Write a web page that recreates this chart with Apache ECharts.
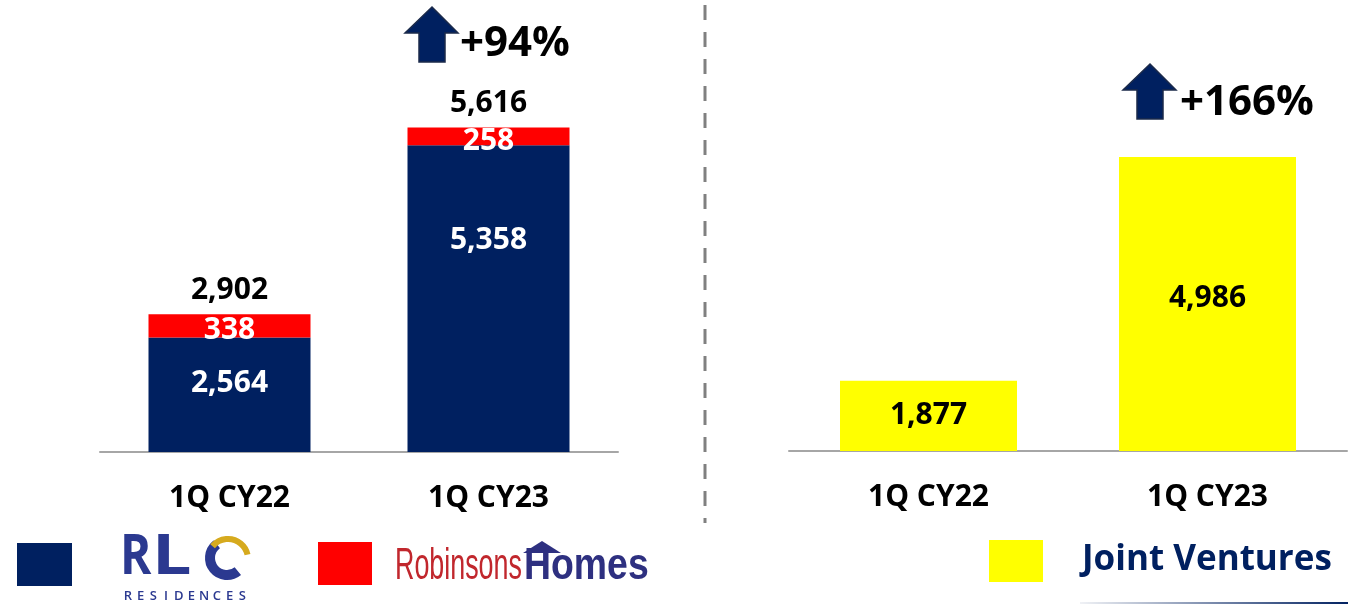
<!DOCTYPE html>
<html>
<head>
<meta charset="utf-8">
<script src="https://cdn.jsdelivr.net/npm/echarts@6/dist/echarts.min.js"></script>
<style>
  html, body { margin: 0; padding: 0; background: #fff; }
  #chart { width: 1348px; height: 605px; }
</style>
</head>
<body>
<div id="chart"></div>
<script>
// data
const categories = ['1Q CY22', '1Q CY23'];
const rlcValues = [2564, 5358];
const robinsonsValues = [338, 258];
const jvValues = [1877, 4986];
const growthLabels = ['+94%', '+166%'];

const totals = rlcValues.map((v, i) => v + robinsonsValues[i]);
const fmt = (v) => v.toLocaleString('en-US');

const NAVY = '#002060';
const LOGO_BLUE = '#2b3990';
const FONT = '"Open Sans", "DejaVu Sans", sans-serif';
const PLAIN = '"Liberation Sans", "DejaVu Sans", sans-serif';

const chart = echarts.init(document.getElementById('chart'), null, { renderer: 'canvas' });

const valueLabel = (color) => ({
    show: true,
    color: color,
    opacity: 1,
    fontFamily: FONT,
    fontWeight: 'bold',
    fontSize: 30,
    formatter: (p) => fmt(p.value)
});

const catAxis = (gridIndex) => ({
    type: 'category',
    gridIndex: gridIndex,
    data: categories,
    axisTick: { show: false },
    axisLine: { lineStyle: { color: '#a6a6a6', width: 2 } },
    axisLabel: { color: '#000', fontFamily: FONT, fontWeight: 'bold', fontSize: 30, margin: 31 }
});

// arrow shape, drawn relative to its left/top corner
const arrow = (x, y) => ({
    type: 'polygon',
    shape: {
        points: [[x + 27, y], [x + 53, y + 26], [x + 40, y + 26], [x + 40, y + 55],
                 [x + 14, y + 55], [x + 14, y + 26], [x, y + 26]]
    },
    style: { fill: NAVY, stroke: '#1b2a4a', lineWidth: 1.5 }
});

const pctText = (x, y, text) => ({
    type: 'text', x: x, y: y,
    style: { text: text, fill: '#000', font: 'bold 42px ' + FONT, textVerticalAlign: 'middle' }
});

const square = (x, y, w, h, color) => ({
    type: 'rect', shape: { x: x, y: y, width: w, height: h }, style: { fill: color }
});

const logoLetter = (text, x, sx) => ({
    type: 'text', x: x, y: 558, scaleX: sx,
    style: { text: text, fill: LOGO_BLUE, font: 'bold 56px ' + FONT, textVerticalAlign: 'middle' }
});

// spaced-out "RESIDENCES" under the RLC logo
const residences = 'RESIDENCES'.split('').map((ch, i) => ({
    type: 'text', x: 128 + i * 12.7, y: 596,
    style: { text: ch, fill: LOGO_BLUE, font: '600 13px ' + FONT, textAlign: 'center', textVerticalAlign: 'middle' }
}));

const option = {
    animation: false,
    backgroundColor: '#fff',
    grid: [
        { left: 100, width: 518, top: 101, bottom: 153 },
        { left: 789, width: 558, top: 84, bottom: 154 }
    ],
    xAxis: [catAxis(0), catAxis(1)],
    yAxis: [
        { type: 'value', gridIndex: 0, min: 900, max: 6000, show: false, splitLine: { show: false } },
        { type: 'value', gridIndex: 1, min: 900, max: 6000, show: false, splitLine: { show: false } }
    ],
    series: [
        {
            name: 'RLC Residences',
            type: 'bar',
            stack: 'left',
            barWidth: 162,
            itemStyle: { color: NAVY },
            data: rlcValues.map((v, i) => ({
                value: v,
                label: { position: 'insideTop', distance: i === 0 ? 31 : 80 }
            })),
            label: valueLabel('#fff')
        },
        {
            name: 'Robinsons Homes',
            type: 'bar',
            stack: 'left',
            barWidth: 162,
            itemStyle: { color: '#ff0000' },
            data: robinsonsValues,
            label: Object.assign(valueLabel('#fff'), { position: 'inside', offset: [0, 5] }),
            z: 3
        },
        {
            name: 'Total',
            type: 'scatter',
            symbolSize: 0,
            itemStyle: { opacity: 1 },
            data: totals,
            label: Object.assign(valueLabel('#000'), { position: 'top', distance: 9 }),
            z: 5
        },
        {
            name: 'Joint Ventures',
            type: 'bar',
            xAxisIndex: 1,
            yAxisIndex: 1,
            barWidth: 177,
            itemStyle: { color: '#ffff00' },
            data: jvValues.map((v, i) => ({
                value: v,
                label: { offset: [0, i === 0 ? 0 : -6] }
            })),
            label: Object.assign(valueLabel('#000'), { position: 'inside' })
        }
    ],
    graphic: [
        // dashed separator
        {
            type: 'line',
            shape: { x1: 705, y1: 5, x2: 705, y2: 523 },
            style: { stroke: '#808080', lineWidth: 3, lineDash: [15, 12] }
        },
        arrow(405, 7),
        pctText(460, 44, growthLabels[0]),
        arrow(1123, 64),
        pctText(1180, 103, growthLabels[1]),

        // legend: RLC Residences
        square(17, 543, 55, 43, NAVY),
        logoLetter('R', 120, 0.85),
        logoLetter('L', 152, 1.25),
        {
            type: 'arc',
            shape: { cx: 227, cy: 558, r: 17, startAngle: Math.PI * 0.28, endAngle: Math.PI * 1.3 },
            style: { stroke: LOGO_BLUE, lineWidth: 10, fill: null }
        },
        {
            type: 'arc',
            shape: { cx: 228, cy: 559, r: 20, startAngle: Math.PI * 1.22, endAngle: Math.PI * 1.93 },
            style: { stroke: '#d6aa1e', lineWidth: 6, fill: null }
        },
        ...residences,

        // legend: Robinsons Homes
        square(318, 542, 54, 43, '#ff0000'),
        {
            type: 'text', x: 395, y: 567, scaleX: 0.61,
            style: { text: 'Robinsons', fill: '#c1272d', font: '44px ' + PLAIN, textVerticalAlign: 'middle' }
        },
        {
            type: 'polygon',
            shape: { points: [[542, 541], [561, 553], [523, 553]] },
            style: { fill: '#2e3080' }
        },
        {
            type: 'text', x: 524, y: 567, scaleX: 0.85,
            style: { text: 'Homes', fill: '#2e3080', font: 'bold 44px ' + PLAIN, textVerticalAlign: 'middle' }
        },

        // legend: Joint Ventures
        square(989, 540, 54, 42, '#ffff00'),
        {
            type: 'text', x: 1082, y: 560,
            style: { text: 'Joint Ventures', fill: NAVY, font: 'bold 35px ' + FONT, textVerticalAlign: 'middle' }
        },
        {
            type: 'line',
            shape: { x1: 1080, y1: 603, x2: 1348, y2: 603 },
            style: {
                lineWidth: 2,
                stroke: new echarts.graphic.LinearGradient(0, 0, 1, 0, [
                    { offset: 0, color: 'rgba(0,32,96,0.05)' },
                    { offset: 1, color: NAVY }
                ])
            }
        }
    ]
};

chart.setOption(option);
</script>
</body>
</html>
